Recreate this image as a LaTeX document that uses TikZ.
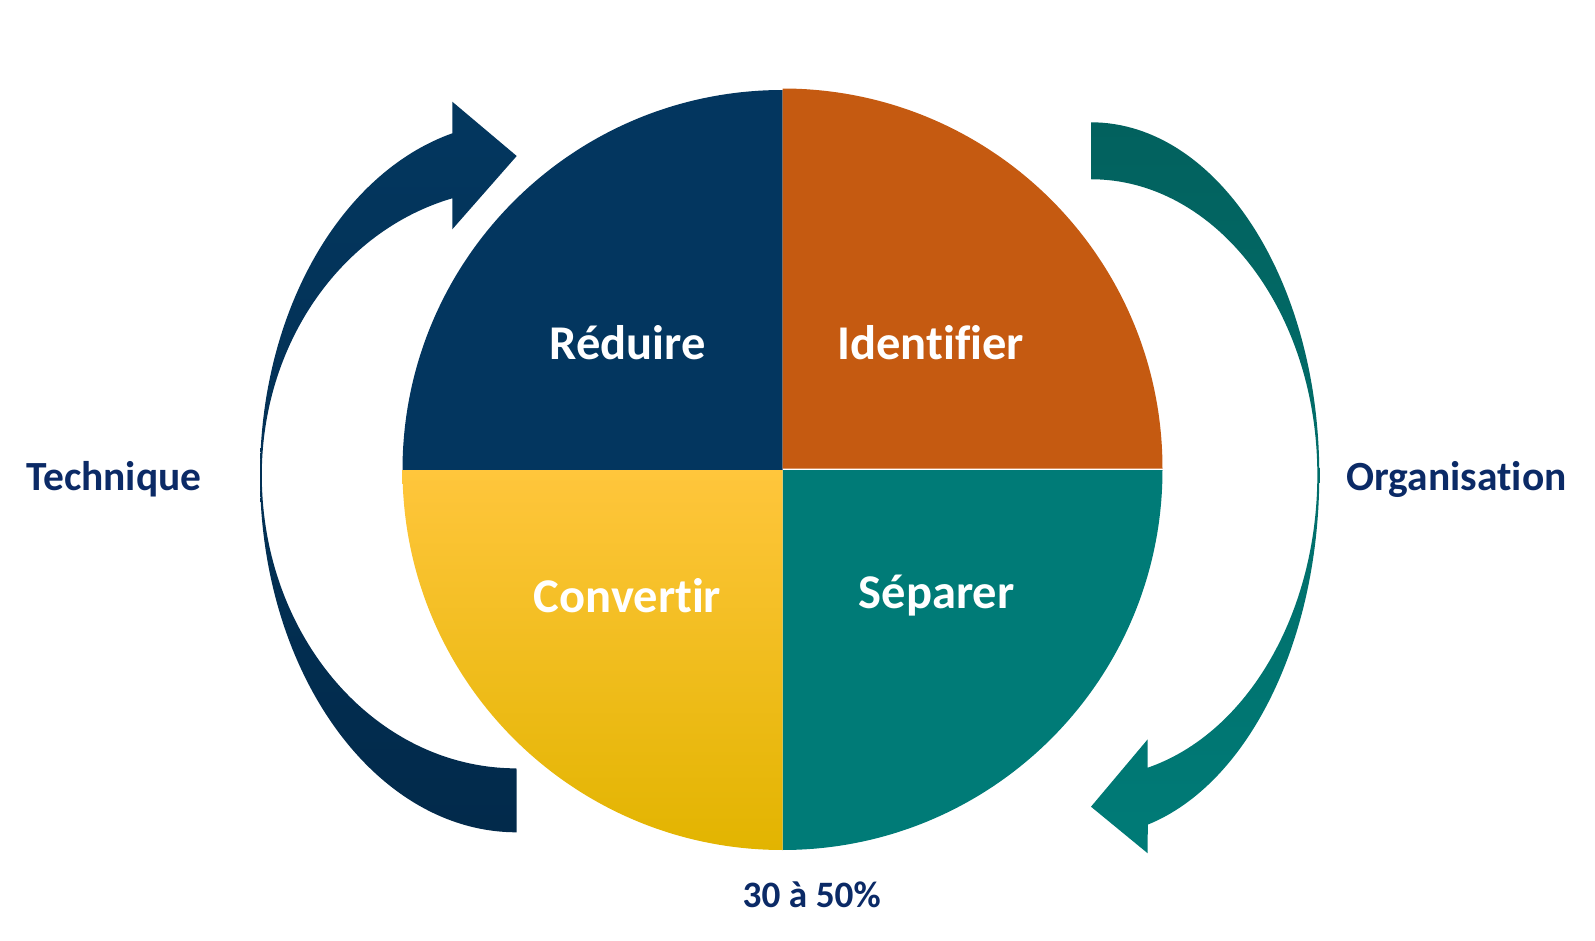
\documentclass[tikz,border=0pt]{standalone}
\usepackage{fontspec}
\setmainfont{Carlito}[Ligatures={NoCommon,NoRare}]
\usepackage{xcolor}
\definecolor{Navy}{HTML}{03365F}
\definecolor{NavyTop}{HTML}{03375F}
\definecolor{NavyLow}{HTML}{022A4B}
\definecolor{Rust}{HTML}{C55A11}
\definecolor{Teal}{HTML}{007B77}
\definecolor{TealTop}{HTML}{02615E}
\definecolor{GoldTop}{HTML}{FFC63C}
\definecolor{Gold}{HTML}{FFC800}
\definecolor{GoldLow}{HTML}{E2B400}
\definecolor{Label}{HTML}{0B2A66}

\begin{document}
\begin{tikzpicture}[x=1cm,y=1cm,
  quadlabel/.style={font=\fontsize{13.8}{16}\selectfont\bfseries,text=white},
  sidelabel/.style={font=\fontsize{11.8}{14}\selectfont\bfseries,text=Label}]
\useasboundingbox (0,0) rectangle (15.95,9.40);
\coordinate (c) at (7.825,4.70);
% the four quarters
\fill[Navy] (c) -- ++(180:3.80) arc[start angle=180,end angle=90,radius=3.80] -- cycle;
\fill[Rust] ([yshift=0.015cm]c) -- ++(90:3.80) arc[start angle=90,end angle=0,radius=3.80] -- cycle;
\fill[Teal] (c) -- ++(0:3.80) arc[start angle=0,end angle=-90,radius=3.80] -- cycle;
\shade[top color=GoldTop,middle color=Gold,bottom color=GoldLow] (c) -- ++(-90:3.80) arc[start angle=-90,end angle=-180,radius=3.80] -- cycle;
% left curved arrow
\shade[top color=NavyTop,bottom color=NavyLow]
  (5.167,1.077) arc[start angle=270,end angle=180,x radius=2.567,y radius=3.573]
  arc[start angle=180,end angle=104.5,x radius=2.567,y radius=3.53]
  -- (4.523,8.383) -- (5.167,7.84) -- (4.523,7.107) -- (4.523,7.417)
  arc[start angle=104.6,end angle=180,x radius=2.547,y radius=2.86]
  arc[start angle=180,end angle=270,x radius=2.547,y radius=2.933]
  -- cycle;
% right curved arrow
\shade[top color=TealTop,bottom color=Teal]
  (10.91,8.177) arc[start angle=90,end angle=0,x radius=2.283,y radius=3.527]
  arc[start angle=0,end angle=-75.6,x radius=2.283,y radius=3.61]
  -- (11.477,0.867) -- (10.91,1.333) -- (11.477,2.007) -- (11.477,1.723)
  arc[start angle=-75.5,end angle=0,x radius=2.263,y radius=3.024]
  arc[start angle=0,end angle=90,x radius=2.263,y radius=2.957]
  -- cycle;
\node[quadlabel] (reduire) at (6.276,5.972) {Réduire};
\node[quadlabel] (identifier) at (9.307,5.972) {Identifier};
\node[quadlabel] (convertir) at (6.276,3.44) {Convertir};
\node[quadlabel] (separer) at (9.368,3.44) {Séparer};
\node[sidelabel] (technique) at (1.139,4.61) {Technique};
\node[sidelabel] (organisation) at (14.566,4.61) {Organisation};
\node[sidelabel,font=\fontsize{10.6}{13}\selectfont\bfseries] (part) at (8.117,0.45) {30 à 50\%};
\end{tikzpicture}
\end{document}
